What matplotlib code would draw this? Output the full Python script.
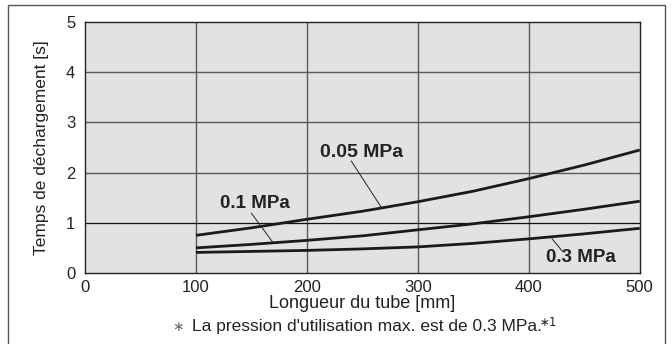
import matplotlib
matplotlib.use('Agg')
import matplotlib.pyplot as plt
from matplotlib.patches import Rectangle

plt.rcParams['font.family'] = ['Liberation Sans', 'DejaVu Sans']

# tube length [mm] and discharge time [s] per supply pressure
length = [100, 150, 200, 250, 300, 350, 400, 450, 500]
t_005 = [0.75, 0.90, 1.07, 1.23, 1.42, 1.63, 1.88, 2.15, 2.45]
t_01 = [0.50, 0.57, 0.65, 0.74, 0.86, 0.98, 1.12, 1.27, 1.43]
t_03 = [0.41, 0.43, 0.45, 0.48, 0.52, 0.59, 0.68, 0.78, 0.89]

x_ticks = [0, 100, 200, 300, 400, 500]
y_ticks = [0, 1, 2, 3, 4, 5]

fig = plt.figure(figsize=(6.72, 3.44), dpi=100)
ax = fig.add_axes([0.1265, 0.2064, 0.8255, 0.7296])
ax.set_facecolor('#e1e2e4')

# outer frame around the whole figure
fig.patches.append(Rectangle((8 / 672, -0.05), 657 / 672, 1.05 - 5 / 344,
                             transform=fig.transFigure, fill=False,
                             edgecolor='#555555', linewidth=1.0))

for xv in x_ticks[1:-1]:
    ax.axvline(xv, color='#5a5a5a', linewidth=1.0, zorder=1)
for yv in y_ticks[1:-1]:
    if yv == 1:
        ax.axhline(yv, color='#111111', linewidth=0.9, zorder=1)
    else:
        ax.axhline(yv, color='#5a5a5a', linewidth=1.0, zorder=1)

for t in (t_005, t_01, t_03):
    ax.plot(length, t, color='#1a1a1a', linewidth=2.0, zorder=3,
            solid_capstyle='butt')

ax.set_xlim(0, 500)
ax.set_ylim(0, 5)
ax.set_xticks(x_ticks)
ax.set_yticks(y_ticks)
ax.tick_params(length=0, labelsize=12, colors='#222222')
ax.tick_params(axis='x', pad=5)
ax.tick_params(axis='y', pad=7)
for s in ax.spines.values():
    s.set_color('#222222')
    s.set_linewidth(1.0)

ax.set_xlabel('Longueur du tube [mm]', fontsize=13, color='#222222', labelpad=0)
ax.set_ylabel('Temps de déchargement [s]', fontsize=12.5, color='#222222', labelpad=12)

# curve labels with leader lines
lab = dict(fontsize=13.5, fontweight='bold', color='#222222', zorder=4)
ax.text(212, 2.41, '0.05 MPa', ha='left', va='center', fontsize=14,
        fontweight='bold', color='#222222', zorder=4)
ax.plot([240, 267], [2.23, 1.31], color='#222222', linewidth=0.7, zorder=4)
ax.text(153, 1.39, '0.1 MPa', ha='center', va='center', **lab)
ax.plot([150, 169], [1.19, 0.62], color='#222222', linewidth=0.7, zorder=4)
ax.text(447, 0.30, '0.3 MPa', ha='center', va='center', **lab)
ax.plot([421, 430], [0.68, 0.44], color='#222222', linewidth=0.7, zorder=4)

# footnote
fy = 1 - 327 / 344
fig.text(178 / 672, fy, '\u2217', family='DejaVu Sans', ha='center', va='center',
         fontsize=10, color='#666666')
fig.text(192 / 672, fy, "La pression d'utilisation max. est de 0.3 MPa.",
         ha='left', va='center', fontsize=12.5, color='#222222')
fig.text(540 / 672, fy + 0.012, '\u22171', family='DejaVu Sans', ha='left',
         va='center', fontsize=8.5, color='#222222')

fig.savefig('out.png', dpi=100)
